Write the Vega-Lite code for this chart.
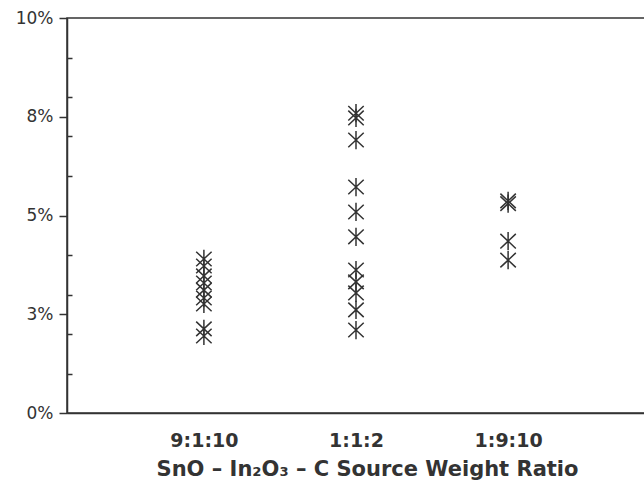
{
  "$schema": "https://vega.github.io/schema/vega-lite/v6.json",
  "autosize": {"type": "none"},
  "padding": {"left": 67, "top": 18, "right": 0, "bottom": 75},
  "width": 578,
  "height": 395,
  "background": "white",
  "view": {"stroke": "#333", "strokeWidth": 1.5},
  "data": {"values": [
    {"ratio": "9:1:10", "value": 0.0390},
    {"ratio": "9:1:10", "value": 0.0372},
    {"ratio": "9:1:10", "value": 0.0347},
    {"ratio": "9:1:10", "value": 0.0329},
    {"ratio": "9:1:10", "value": 0.0311},
    {"ratio": "9:1:10", "value": 0.0291},
    {"ratio": "9:1:10", "value": 0.0276},
    {"ratio": "9:1:10", "value": 0.0213},
    {"ratio": "9:1:10", "value": 0.0195},
    {"ratio": "1:1:2", "value": 0.0759},
    {"ratio": "1:1:2", "value": 0.0747},
    {"ratio": "1:1:2", "value": 0.0691},
    {"ratio": "1:1:2", "value": 0.0572},
    {"ratio": "1:1:2", "value": 0.0509},
    {"ratio": "1:1:2", "value": 0.0446},
    {"ratio": "1:1:2", "value": 0.0362},
    {"ratio": "1:1:2", "value": 0.0332},
    {"ratio": "1:1:2", "value": 0.0304},
    {"ratio": "1:1:2", "value": 0.0261},
    {"ratio": "1:1:2", "value": 0.0210},
    {"ratio": "1:9:10", "value": 0.0537},
    {"ratio": "1:9:10", "value": 0.0530},
    {"ratio": "1:9:10", "value": 0.0435},
    {"ratio": "1:9:10", "value": 0.0387}
  ]},
  "mark": {
    "type": "point",
    "shape": "M0,-1L0,1M-0.85,-0.8L0.85,0.8M-0.85,0.8L0.85,-0.8",
    "size": 330,
    "filled": false,
    "stroke": "#333",
    "strokeWidth": 1.5,
    "opacity": 1
  },
  "encoding": {
    "x": {
      "field": "ratio",
      "type": "ordinal",
      "sort": ["9:1:10", "1:1:2", "1:9:10"],
      "scale": {"type": "point", "padding": 0.9},
      "axis": {
        "title": "SnO – In₂O₃ – C Source Weight Ratio",
        "labelAngle": 0,
        "ticks": false,
        "domain": true,
        "domainColor": "#333",
        "domainWidth": 1.5,
        "labelFont": "DejaVu Sans",
        "labelFontSize": 19,
        "labelFontWeight": "bold",
        "labelColor": "#333",
        "labelPadding": 18,
        "titleFont": "DejaVu Sans",
        "titleFontSize": 21,
        "titleFontWeight": "bold",
        "titleColor": "#333",
        "titlePadding": 8,
        "titleAnchor": "middle",
        "titleX": 300
      }
    },
    "y": {
      "field": "value",
      "type": "quantitative",
      "scale": {"domain": [0, 0.1], "nice": false, "zero": true},
      "axis": {
        "title": null,
        "values": [0, 0.01, 0.02, 0.025, 0.03, 0.04, 0.05, 0.06, 0.07, 0.075, 0.08, 0.09, 0.1],
        "labelExpr": "datum.value == 0 ? '0%' : datum.value == 0.025 ? '3%' : datum.value == 0.05 ? '5%' : datum.value == 0.075 ? '8%' : datum.value == 0.1 ? '10%' : ''",
        "tickSize": {"condition": {"test": "indexof([0, 0.025, 0.05, 0.075, 0.1], datum.value) >= 0", "value": 8}, "value": -5},
        "tickColor": "#333",
        "tickWidth": 1.5,
        "domainColor": "#333",
        "domainWidth": 1.5,
        "grid": false,
        "labelFont": "DejaVu Sans",
        "labelFontSize": 17,
        "labelColor": "#333",
        "labelPadding": 6
      }
    }
  }
}
